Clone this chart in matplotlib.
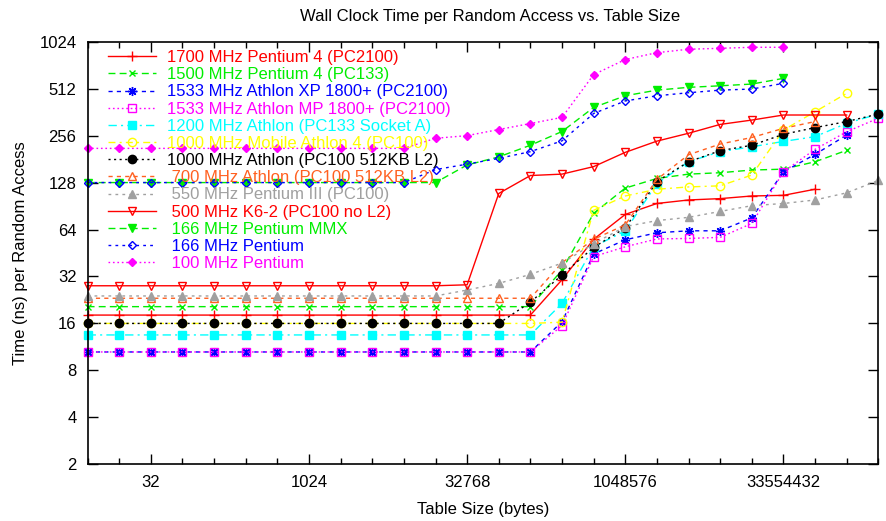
import numpy as np
import matplotlib
matplotlib.use('Agg')
import matplotlib.pyplot as plt
from matplotlib.ticker import FixedLocator, NullFormatter

plt.rcParams['font.family'] = ['Liberation Sans', 'DejaVu Sans']

# table sizes in bytes, 2^3 .. 2^28
sizes = [8, 16, 32, 64, 128, 256, 512, 1024, 2048, 4096, 8192, 16384, 32768,
         65536, 131072, 262144, 524288, 1048576, 2097152, 4194304, 8388608,
         16777216, 33554432, 67108864, 134217728, 268435456]

p4_pc2100 = [18.1]*15 + [30.5, 55.4, 80, 94, 99, 101, 105, 106, 116]
p4_pc133 = [20.5]*15 + [35.2, 81.3, 118, 136, 145, 148, 154, 156, 174, 206]
athlon_xp = [10.5]*15 + [16.4, 44.6, 55, 61, 62.8, 62.8, 76, 150, 194, 258]
athlon_mp = [10.5]*15 + [15.5, 42.9, 49.6, 55.7, 56.1, 57, 70, 150, 209, 271, 331]
athlon_1200 = [13.5]*15 + [21.5, 49.6, 62.8, 126, 174, 202, 217, 235, 252, 307, 352]
mobile_athlon = [16]*15 + [16.3, 85, 105, 116, 120, 122, 143, 278, 364, 478]
athlon_1000 = [16]*14 + [21.9, 32.7, 49.2, 65.5, 130, 174, 205, 222, 261, 288, 315, 352]
athlon_700 = [23.2]*15 + [39.2, 55.4, 68.6, 134, 193, 226, 249, 285, 315]
piii_550 = [24]*12 + [26.2, 28.9, 33, 39, 52, 66.8, 73, 76.6, 83.6, 91, 94, 99, 110, 132]
k6_2 = [27.9]*12 + [28.3, 109, 142, 145, 162, 200, 236, 265, 302, 322, 347, 347, 347]
mmx_166 = [128]*12 + [166, 187, 222, 272, 388, 461, 501, 522, 534, 548, 596]
pentium_166 = [128]*11 + [155, 168, 183, 202, 237, 355, 427, 461, 482, 501, 509, 554]
pentium_100 = [212]*11 + [246, 256, 280, 306, 335, 630, 787, 871, 916, 929, 943, 943]

labels = ['1700 MHz Pentium 4 (PC2100)', '1500 MHz Pentium 4 (PC133)',
          '1533 MHz Athlon XP 1800+ (PC2100)', '1533 MHz Athlon MP 1800+ (PC2100)',
          '1200 MHz Athlon (PC133 Socket A)', '1000 MHz Mobile Athlon 4 (PC100)',
          '1000 MHz Athlon (PC100 512KB L2)', ' 700 MHz Athlon (PC100 512KB L2)',
          ' 550 MHz Pentium III (PC100)', ' 500 MHz K6-2 (PC100 no L2)',
          ' 166 MHz Pentium MMX', ' 166 MHz Pentium', ' 100 MHz Pentium']
series = [p4_pc2100, p4_pc133, athlon_xp, athlon_mp, athlon_1200, mobile_athlon,
          athlon_1000, athlon_700, piii_550, k6_2, mmx_166, pentium_166, pentium_100]

styles = [
    dict(color='#ff0000', ls='-', marker='+', mfc='none', ms=6.5),
    dict(color='#00ee00', ls=(0, (5, 3)), marker='x', mfc='none', ms=5),
    dict(color='#0000ff', ls=(0, (3, 3)), marker=(8, 2, 0), mfc='none', ms=6.5),
    dict(color='#ff00ff', ls=(0, (1.2, 2)), marker='s', mfc='none', ms=5.5),
    dict(color='#00ffff', ls=(0, (6, 3, 1.5, 3)), marker='s', mfc='#00ffff', ms=5.5),
    dict(color='#ffff00', ls=(0, (5, 3, 1.5, 3)), marker='o', mfc='none', ms=6),
    dict(color='#000000', ls=(0, (1.5, 2.5)), marker='o', mfc='#000000', ms=6),
    dict(color='#ff6020', ls=(0, (3, 3)), marker='^', mfc='none', ms=6),
    dict(color='#a0a0a0', ls=(0, (2, 3)), marker='^', mfc='#a0a0a0', ms=5.5),
    dict(color='#ff0000', ls='-', marker='v', mfc='none', ms=6),
    dict(color='#00ee00', ls=(0, (5, 3)), marker='v', mfc='#00ee00', ms=5.5),
    dict(color='#0000ff', ls=(0, (2, 3)), marker='D', mfc='none', ms=4.5),
    dict(color='#ff00ff', ls=(0, (1.2, 2)), marker='D', mfc='#ff00ff', ms=4.5),
]

fig = plt.figure(figsize=(8.86, 5.21), dpi=100)
ax = fig.add_axes([87.6/886, 1-464.3/521, (878.3-87.6)/886, (464.3-41.7)/521])

for vals, lab, st in zip(series, labels, styles):
    ax.plot(sizes[:len(vals)], vals, color=st['color'], linestyle=st['ls'],
            linewidth=1.0, marker=st['marker'], markersize=st['ms'],
            markerfacecolor=st['mfc'], markeredgecolor=st['color'],
            markeredgewidth=1.0, label=lab, clip_on=False)

ax.set_xscale('log', base=2)
ax.set_yscale('log', base=2)
ax.set_xlim(8, 268435456)
ax.set_ylim(2, 1024)

xmaj = [32, 1024, 32768, 1048576, 33554432]
ax.xaxis.set_major_locator(FixedLocator(xmaj))
ax.set_xticklabels([str(v) for v in xmaj])
ax.xaxis.set_minor_locator(FixedLocator(sizes))
ax.xaxis.set_minor_formatter(NullFormatter())
yt = [2, 4, 8, 16, 32, 64, 128, 256, 512, 1024]
ax.yaxis.set_major_locator(FixedLocator(yt))
ax.set_yticklabels([str(v) for v in yt])
ax.yaxis.set_minor_locator(FixedLocator([]))

ax.tick_params(which='major', direction='in', length=7, width=1, top=True, right=True,
               labelsize=12, pad=8)
ax.tick_params(which='minor', direction='in', length=4, width=1, top=True, right=True)
for sp in ax.spines.values():
    sp.set_linewidth(1.2)

ax.set_xlabel('Table Size (bytes)', fontsize=12, labelpad=8)
ax.set_ylabel('Time (ns) per Random Access', fontsize=12, labelpad=8)
fig.text(490/886, 1-16/521, 'Wall Clock Time per Random Access vs. Table Size',
         ha='center', va='center', fontsize=12)

leg = ax.legend(loc='upper left', bbox_to_anchor=(0.0258, 0.98), frameon=False,
                fontsize=12, handlelength=2.87, handletextpad=0.66,
                labelspacing=0.13, borderpad=0, borderaxespad=0, numpoints=1)
for txt, st in zip(leg.get_texts(), styles):
    txt.set_color(st['color'])

fig.savefig('out.png', dpi=100)
